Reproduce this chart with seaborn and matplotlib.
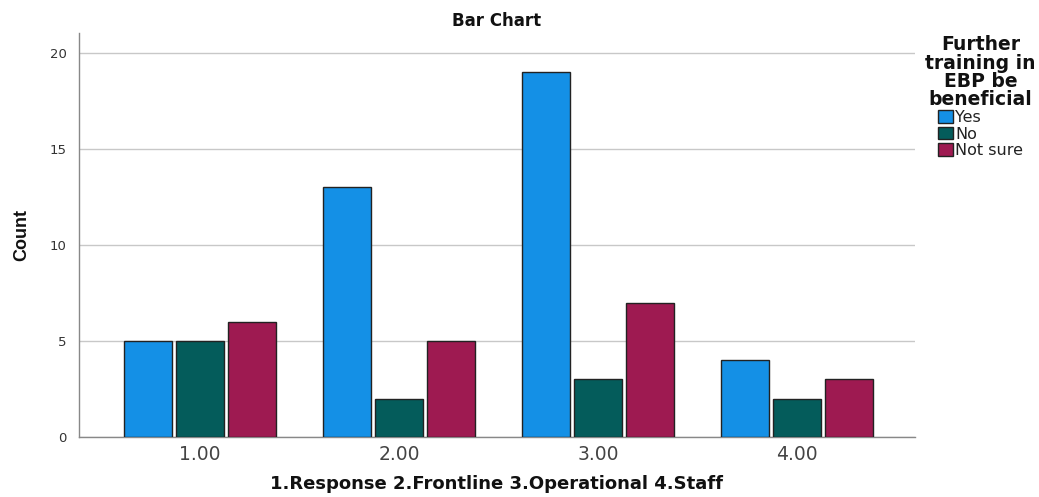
import matplotlib
matplotlib.use("Agg")
import matplotlib.pyplot as plt
import seaborn as sns
import pandas as pd

groups = ["1.00", "2.00", "3.00", "4.00"]
responses = ["Yes", "No", "Not sure"]
yes_counts = [5, 13, 19, 4]
no_counts = [5, 2, 3, 2]
notsure_counts = [6, 5, 7, 3]
colors = ["#1490e6", "#045c5b", "#9e1a51"]

rows = []
for g, y, n, s in zip(groups, yes_counts, no_counts, notsure_counts):
    rows += [(g, "Yes", y), (g, "No", n), (g, "Not sure", s)]
df = pd.DataFrame(rows, columns=["group", "resp", "count"])

sns.set_style("white")
plt.rcParams["font.family"] = ["DejaVu Sans"]

fig = plt.figure(figsize=(10.39, 4.97), dpi=100)
ax = fig.add_axes([79/1039, 60/497, 836/1039, 404/497])

sns.barplot(data=df, x="group", y="count", hue="resp", hue_order=responses,
            palette=colors, order=groups, width=0.78, gap=0.08, saturation=1,
            edgecolor="#222222", linewidth=1.0, ax=ax, zorder=3)

ax.set_xlim(-0.608, 3.593)
ax.set_ylim(0, 21.04)
ax.set_yticks([0, 5, 10, 15, 20])
ax.yaxis.grid(True, color="#c8c8c8", linewidth=1, zorder=0)
ax.set_axisbelow(True)
for s in ["top", "right"]:
    ax.spines[s].set_visible(False)
for s in ["left", "bottom"]:
    ax.spines[s].set_color("#888888")
    ax.spines[s].set_linewidth(1)
ax.tick_params(axis="x", labelsize=13.5, colors="#444444", length=0, pad=6)
ax.tick_params(axis="y", labelsize=9.5, colors="#333333", length=0, pad=9)

ax.set_xlabel("1.Response 2.Frontline 3.Operational 4.Staff",
              fontsize=13, fontweight="bold", labelpad=8, color="#111111")
ax.set_ylabel("Count", fontsize=13, fontweight="bold",
              family=["Liberation Sans", "DejaVu Sans"], labelpad=14, color="#111111")
ax.set_title("Bar Chart", fontsize=12, fontweight="bold", pad=5, color="#111111")

leg = ax.legend(title="Further\ntraining in\nEBP be\nbeneficial",
                loc="upper left", bbox_to_anchor=(1.0, 1.02), frameon=False,
                fontsize=11.5, title_fontproperties={"weight": "bold", "size": 13.5},
                handlelength=0.95, handleheight=0.85, handletextpad=0.12,
                labelspacing=0.08, borderaxespad=0.2, borderpad=0.45)
leg._legend_box.align = "center"
leg.get_title().set_multialignment("center")
leg.get_title().set_linespacing(0.95)
leg.get_title().set_color("#111111")
for h in leg.legend_handles:
    h.set_edgecolor("#222222")
for t in leg.get_texts():
    t.set_color("#222222")

fig.savefig("out.png", dpi=100)
